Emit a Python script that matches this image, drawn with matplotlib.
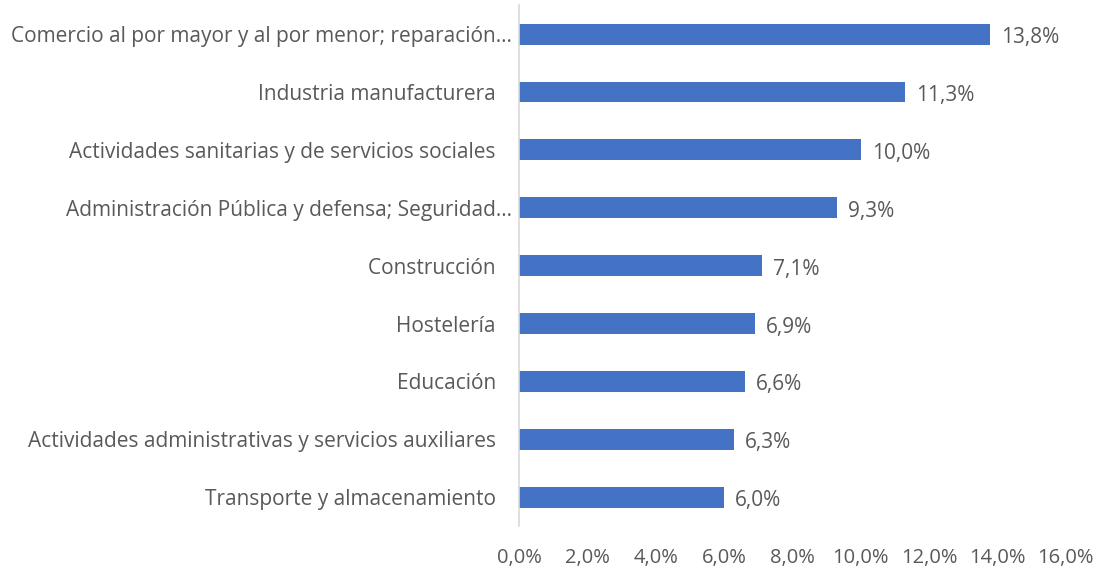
import matplotlib
matplotlib.use('Agg')
import matplotlib.pyplot as plt
from matplotlib.ticker import FuncFormatter

# labels as shown in the chart (long ones truncated, others with trailing padding)
categories = [
    "Comercio al por mayor y al por menor; reparación…",
    "Industria manufacturera   ",
    "Actividades sanitarias y de servicios sociales   ",
    "Administración Pública y defensa; Seguridad…",
    "Construcción   ",
    "Hostelería   ",
    "Educación   ",
    "Actividades administrativas y servicios auxiliares   ",
    "Transporte y almacenamiento   ",
]
values = [13.8, 11.3, 10.0, 9.3, 7.1, 6.9, 6.6, 6.3, 6.0]
xticks = [0, 2, 4, 6, 8, 10, 12, 14, 16]

text_color = '#595959'
bar_color = '#4472C4'

plt.rcParams['font.family'] = ['Open Sans', 'DejaVu Sans']

fig = plt.figure(figsize=(11.02, 5.72), dpi=100)
ax = fig.add_axes([0.471, 0.080, 0.496, 0.911])

pos = list(range(len(categories)))
ax.barh(pos, values, height=0.36, color=bar_color)
ax.set_ylim(len(categories) - 0.5, -0.5)
ax.set_xlim(0, 16)

ax.set_yticks(pos)
ax.set_yticklabels(categories, fontsize=15, color=text_color)
ax.set_xticks(xticks)
ax.xaxis.set_major_formatter(FuncFormatter(lambda v, p: f"{v:.1f}%".replace('.', ',')))
ax.tick_params(axis='x', labelsize=14.5, labelcolor=text_color, length=0, pad=16)
ax.tick_params(axis='y', length=0, pad=5)

for y, v in zip(pos, values):
    ax.text(v + 0.32, y + 0.06, f"{v:.1f}%".replace('.', ','), va='center', ha='left',
            fontsize=15, color=text_color)

for s in ['top', 'right', 'bottom']:
    ax.spines[s].set_visible(False)
ax.spines['left'].set_color('#D9D9D9')
ax.spines['left'].set_linewidth(1.2)

fig.savefig('out.png', dpi=100, facecolor='white')
